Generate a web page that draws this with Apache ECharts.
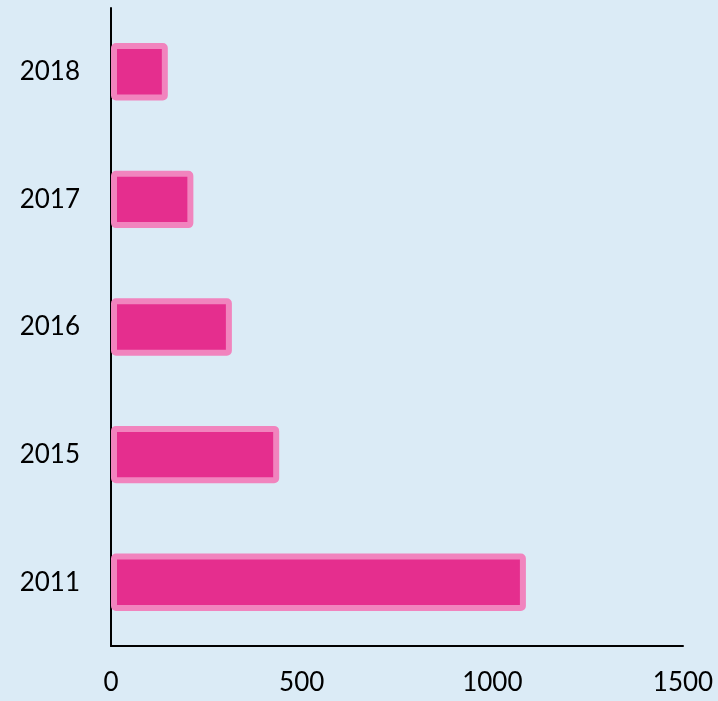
<!DOCTYPE html>
<html>
<head>
<meta charset="utf-8">
<script src="https://cdn.jsdelivr.net/npm/echarts@6/dist/echarts.min.js"></script>
<style>
	html, body { margin: 0; padding: 0; background: #dbebf6; }
	#main { width: 718px; height: 701px; }
</style>
</head>
<body>
<div id="main"></div>
<script>
'use strict'
let years = ['2011', '2015', '2016', '2017', '2018'];
let values = [1088, 441, 317, 216, 149];
let xTicks = [0, 500, 1000, 1500];

let chart = echarts.init(document.getElementById('main'));
let option = {
	backgroundColor: '#dbebf6',
	animation: false,
	grid: {
		left: 111,
		right: 35,
		top: 8,
		bottom: 55
	},
	xAxis: {
		type: 'value',
		min: xTicks[0],
		max: xTicks[xTicks.length - 1],
		interval: 500,
		splitLine: { show: false },
		axisTick: { show: false },
		axisLine: { show: true, lineStyle: { color: '#000', width: 2 } },
		axisLabel: {
			color: '#000',
			fontSize: 26,
			fontFamily: 'Lato',
			margin: 24,
			formatter: (v) => String(v)
		}
	},
	yAxis: {
		type: 'category',
		data: years,
		axisTick: { show: false },
		axisLine: { show: true, lineStyle: { color: '#000', width: 2 } },
		axisLabel: {
			color: '#000',
			fontSize: 26,
			fontFamily: 'Lato',
			margin: 31
		}
	},
	series: [{
		type: 'bar',
		data: values,
		barWidth: '45%',
		itemStyle: {
			color: '#e52e8e',
			borderColor: '#f184be',
			borderWidth: 6,
			borderRadius: 2
		}
	}]
};
chart.setOption(option);
</script>
</body>
</html>
